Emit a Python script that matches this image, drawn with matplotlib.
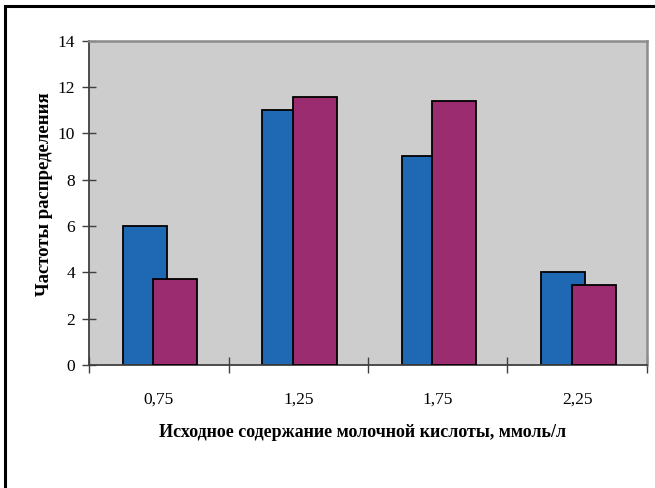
import matplotlib
matplotlib.use("Agg")
import matplotlib.pyplot as plt
from matplotlib.patches import Rectangle
import numpy as np

categories = ["0,75", "1,25", "1,75", "2,25"]
series_a = [6.0, 11.0, 9.0, 4.0]
series_b = [3.7, 11.55, 11.4, 3.45]
y_ticks = [0, 2, 4, 6, 8, 10, 12, 14]

color_a = "#1f69b4"
color_b = "#9b2c6f"

plt.rcParams["font.family"] = ["Liberation Serif", "DejaVu Serif"]

fig = plt.figure(figsize=(6.55, 4.88), dpi=100)
ax = fig.add_axes([89 / 655, 1 - 365 / 488, 558 / 655, 324.5 / 488])
ax.set_facecolor("#cdcdcd")

x = np.arange(len(categories))
w = 0.315
ax.bar(x - 0.10, series_a, width=w, color=color_a, edgecolor="black", linewidth=1.3, zorder=2)
ax.bar(x + 0.117, series_b, width=w, color=color_b, edgecolor="black", linewidth=1.3, zorder=3)

ax.set_xlim(-0.5, len(categories) - 0.5)
ax.set_ylim(0, 14)
ax.set_yticks(y_ticks)
ax.set_yticklabels([str(v) for v in y_ticks], fontsize=12.5)
ax.set_xticks(x)
ax.set_xticklabels(categories, fontsize=12.5)
ax.set_xticks(np.arange(-0.5, len(categories), 1.0), minor=True)

ax.tick_params(axis="x", which="major", length=0, pad=19)
ax.tick_params(axis="x", which="minor", direction="inout", length=12, width=1, color="#404040")
ax.tick_params(axis="y", direction="inout", length=10, width=1, color="#404040", pad=5)

for side in ("left", "bottom"):
    ax.spines[side].set_color("#404040")
    ax.spines[side].set_linewidth(1.3)
for side in ("top", "right"):
    ax.spines[side].set_color("#8c8c8c")
    ax.spines[side].set_linewidth(1.8)

ax.set_xlabel("Исходное содержание молочной кислоты, ммоль/л",
              fontsize=13, fontweight="bold", va="center")
ax.xaxis.set_label_coords(0.49, -0.2065)
ax.set_ylabel("Частоты распределения", fontsize=13.5, fontweight="bold", va="center")
ax.yaxis.set_label_coords(-0.079, 0.527)

fig.patches.append(Rectangle((5 / 655, -0.05), 1.2, (488 - 6) / 488 + 0.05,
                             transform=fig.transFigure, fill=False,
                             edgecolor="black", linewidth=2.2))

fig.savefig("out.png", dpi=100)
